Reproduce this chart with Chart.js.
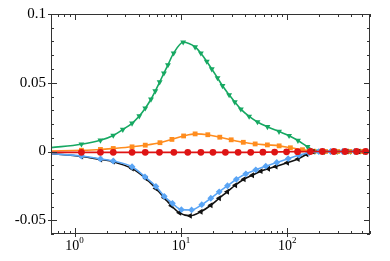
<!DOCTYPE html>
<html>
<head>
<meta charset="utf-8">
<script src="https://cdn.jsdelivr.net/npm/chart.js@4.4.0/dist/chart.umd.min.js"></script>
<style>
  html, body { margin: 0; padding: 0; background: #fff; }
  canvas { display: block; }
  .pre { font-family: 'Liberation Serif'; position: absolute; left: -100px; }
</style>
</head>
<body>
<span class="pre">0.05</span>
<canvas id="myChart" width="390" height="261"></canvas>
<script>
// axis limits and tick labels
const xMin = 0.6, xMax = 600;
const yMin = -0.06, yMax = 0.1;
const yTickValues = [-0.05, 0, 0.05, 0.1];
const xDecades = [0, 1, 2];

// series (x, y)
const greenX = [0.6, 1.16, 1.75, 2.31, 2.84, 3.47, 4.06, 4.62, 5.23, 5.74, 6.31, 6.92, 7.55, 8.54, 10.5, 13.6, 15.4, 17.5, 19.5, 22.1, 24.6, 28.4, 32.1, 36.6, 43.8, 52.5, 65.1, 83.7, 104, 126, 155, 185, 225, 298, 395, 523, 600];
const greenY = [0.0028, 0.0053, 0.0082, 0.0117, 0.0160, 0.0205, 0.0258, 0.0315, 0.0380, 0.0440, 0.0505, 0.0570, 0.0630, 0.0715, 0.0795, 0.0760, 0.0715, 0.0655, 0.0600, 0.0535, 0.0478, 0.0412, 0.0360, 0.0308, 0.0255, 0.0215, 0.0180, 0.0145, 0.0115, 0.0080, 0.0035, 0.0003, 0, 0, 0, 0, 0];

const orangeX = [0.6, 1.16, 1.75, 2.31, 3.47, 4.62, 6.35, 8.23, 10.6, 13.6, 17.9, 23.2, 29.7, 38.6, 49.9, 65.0, 83.9, 107, 139, 177, 229, 298, 386, 500, 600];
const orangeY = [0.0004, 0.0009, 0.0015, 0.0022, 0.0034, 0.0046, 0.0064, 0.0088, 0.0113, 0.0128, 0.0122, 0.0104, 0.0085, 0.0067, 0.0055, 0.0048, 0.0041, 0.0027, 0.0013, 0.0002, 0, 0, 0, 0, 0];

const redX = [0.6, 1.16, 1.75, 2.31, 3.47, 4.62, 6.28, 8.58, 11.6, 15.4, 20.0, 26.2, 34.5, 45.3, 59.0, 76.1, 98.5, 125, 165, 214, 274, 349, 448, 545, 600];
const redY = [-0.0006, -0.0006, -0.0006, -0.0006, -0.0006, -0.0006, -0.0006, -0.0006, -0.0006, -0.0006, -0.0006, -0.0006, -0.0006, -0.0006, -0.0005, -0.0004, -0.0002, -0.0001, 0, 0, 0, 0, 0, 0, 0];

const blueX = [0.6, 1.16, 1.75, 2.31, 3.47, 4.59, 5.82, 6.97, 8.32, 10.1, 12.6, 15.7, 19.1, 22.9, 27.4, 33.2, 40.8, 50.6, 62.8, 79.7, 102, 129, 160, 198, 256, 332, 431, 557, 600];
const blueY = [-0.0016, -0.0033, -0.0054, -0.0069, -0.0111, -0.0184, -0.0254, -0.0326, -0.0377, -0.0423, -0.0425, -0.0387, -0.0340, -0.0293, -0.0249, -0.0202, -0.0162, -0.0133, -0.0107, -0.0080, -0.0052, -0.0027, -0.0009, -0.0001, 0, 0, 0, 0, 0];

const blackX = [0.6, 1.16, 1.75, 2.31, 3.47, 4.69, 5.82, 6.97, 8.15, 9.68, 12.2, 15.4, 19.1, 22.9, 27.3, 32.5, 39.1, 46.9, 56.4, 66.3, 78.0, 100, 126, 152, 174, 215, 279, 362, 469, 600];
const blackY = [-0.0016, -0.0036, -0.0058, -0.0074, -0.0124, -0.0197, -0.0269, -0.0336, -0.0395, -0.0446, -0.0468, -0.0438, -0.0391, -0.0340, -0.0293, -0.0245, -0.0202, -0.0173, -0.0143, -0.0125, -0.0109, -0.0082, -0.0055, -0.0020, -0.0001, 0, 0, 0, 0, 0];

const serif = "'Liberation Serif', 'Times New Roman', serif";

function makeSet(xs, ys, color, style, rot) {
    const last = xs.length - 1;
    return {
        data: xs.map((x, i) => ({x: x, y: ys[i]})),
        borderColor: color,
        backgroundColor: color,
        borderWidth: 1.6,
        cubicInterpolationMode: 'monotone',
        pointStyle: style,
        rotation: rot,
        pointRadius: ctx => (ctx.dataIndex === 0 || ctx.dataIndex === last) ? 0 : 3.4,
        pointBorderWidth: 0,
        pointBackgroundColor: color
    };
}

// inward tick marks, frame and the 10^n labels
const framePlugin = {
    id: 'frame',
    afterDraw(chart) {
        const ctx = chart.ctx, a = chart.chartArea;
        const xs = chart.scales.x, ys = chart.scales.y;
        ctx.save();
        ctx.strokeStyle = '#333';
        ctx.lineWidth = 1;
        ctx.strokeRect(a.left + 0.5, a.top + 0.5, a.right - a.left - 1, a.bottom - a.top - 1);

        ctx.beginPath();
        for (let d = -1; d <= 3; d++) {
            for (let m = 1; m <= 9; m++) {
                const v = m * Math.pow(10, d);
                if (v < xMin || v > xMax) continue;
                const px = Math.round(xs.getPixelForValue(v)) + 0.5;
                const len = m === 1 ? 6 : 3;
                ctx.moveTo(px, a.bottom); ctx.lineTo(px, a.bottom - len);
                ctx.moveTo(px, a.top); ctx.lineTo(px, a.top + len);
                if (m === 1) { ctx.moveTo(px, a.bottom); ctx.lineTo(px, a.bottom + 3); }
            }
        }
        for (let k = -6; k <= 10; k++) {
            const py = Math.round(ys.getPixelForValue(k / 100)) + 0.5;
            const major = k % 5 === 0;
            const len = major ? 6 : 3;
            ctx.moveTo(a.left, py); ctx.lineTo(a.left + len, py);
            ctx.moveTo(a.right, py); ctx.lineTo(a.right - len, py);
            if (major) { ctx.moveTo(a.left, py); ctx.lineTo(a.left - 3, py); }
        }
        ctx.stroke();

        ctx.fillStyle = '#000';
        ctx.textBaseline = 'alphabetic';
        xDecades.forEach(k => {
            const px = xs.getPixelForValue(Math.pow(10, k));
            ctx.font = '14px ' + serif;
            const w = ctx.measureText('10').width;
            ctx.font = '9px ' + serif;
            const ws = ctx.measureText(String(k)).width;
            const start = px - (w + ws) / 2;
            ctx.font = '14px ' + serif;
            ctx.fillText('10', start, 250);
            ctx.font = '9px ' + serif;
            ctx.fillText(String(k), start + w, 243);
        });
        ctx.restore();
    }
};

function drawChart() {
    const ctx = document.getElementById('myChart').getContext('2d');
    return new Chart(ctx, {
        type: 'line',
        data: {
            datasets: [
                makeSet(redX, redY, 'rgb(222,20,20)', 'circle', 0),
                makeSet(blueX, blueY, 'rgb(90,165,245)', 'rectRot', 0),
                makeSet(blackX, blackY, '#111', 'triangle', -90),
                makeSet(orangeX, orangeY, 'rgb(255,140,30)', 'rect', 0),
                makeSet(greenX, greenY, 'rgb(22,168,98)', 'triangle', 180)
            ]
        },
        options: {
            responsive: false,
            animation: false,
            devicePixelRatio: 1,
            layout: { padding: { left: 0, top: 14, right: 20, bottom: 0 } },
            plugins: { legend: { display: false }, tooltip: { enabled: false } },
            scales: {
                x: {
                    type: 'logarithmic',
                    min: xMin,
                    max: xMax,
                    grid: { display: false },
                    border: { display: false },
                    ticks: { display: false },
                    afterFit: s => { s.height = 27; }
                },
                y: {
                    min: yMin,
                    max: yMax,
                    grid: { display: false, drawTicks: false },
                    border: { display: false },
                    afterBuildTicks: s => { s.ticks = yTickValues.map(v => ({value: v})); },
                    ticks: {
                        padding: 5,
                        color: '#000',
                        font: { family: serif, size: 15 },
                        callback: v => v === 0 ? '0' : String(v)
                    },
                    afterFit: s => { s.width = 51; }
                }
            }
        },
        plugins: [framePlugin]
    });
}

document.fonts.load("15px 'Liberation Serif'").then(drawChart, drawChart);
</script>
</body>
</html>
